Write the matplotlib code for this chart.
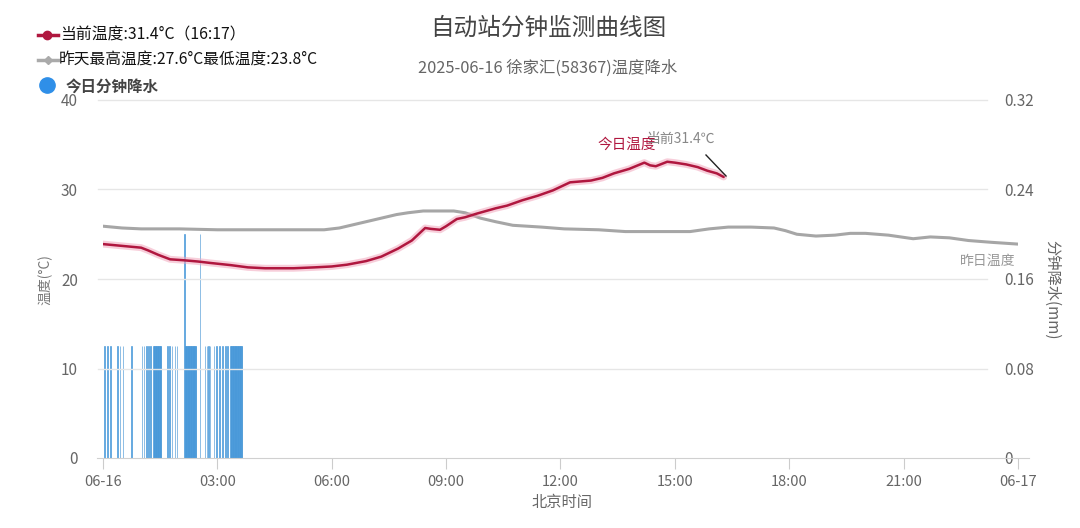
import matplotlib
matplotlib.use("Agg")
import matplotlib.pyplot as plt
from matplotlib.lines import Line2D
import numpy as np

plt.rcParams['font.family'] = ['Noto Sans CJK SC', 'DejaVu Sans']

# ---------------- data ----------------
today_hours = [0, 0.5, 1.0, 1.18, 1.45, 1.76, 2.1, 2.5, 2.8, 3.35, 3.8, 4.25, 5.0, 5.55,
               6.0, 6.4, 6.9, 7.3, 7.74, 8.1, 8.45, 8.6, 8.84, 9.0, 9.28, 9.5, 9.8,
               10.3, 10.6, 11.0, 11.4, 11.8, 12.25, 12.8, 13.1, 13.4, 13.8, 14.2,
               14.35, 14.5, 14.8, 15.0, 15.3, 15.6, 15.85, 16.1, 16.28]
today_temp = [23.9, 23.7, 23.5, 23.2, 22.7, 22.2, 22.1, 21.95, 21.8, 21.55, 21.3, 21.2, 21.2, 21.3,
              21.4, 21.6, 22.0, 22.5, 23.4, 24.3, 25.7, 25.6, 25.5, 25.9, 26.7, 26.9, 27.3,
              27.9, 28.2, 28.8, 29.3, 29.9, 30.8, 31.0, 31.3, 31.8, 32.3, 33.0,
              32.7, 32.6, 33.1, 33.0, 32.8, 32.5, 32.1, 31.8, 31.4]

yest_hours = [0, 0.5, 1.0, 2, 3, 4, 5, 5.8, 6.2, 6.5, 7.0, 7.3, 7.7, 8.0, 8.4, 9.2, 9.5,
              9.9, 10.3, 10.75, 11.5, 12.1, 13.0, 13.7, 14.5, 15.4, 15.9, 16.4, 17.0,
              17.6, 17.9, 18.2, 18.7, 19.2, 19.6, 20.0, 20.6, 21.25, 21.7, 22.2, 22.7,
              23.3, 24.0]
yest_temp = [25.9, 25.7, 25.6, 25.6, 25.5, 25.5, 25.5, 25.5, 25.7, 26.0, 26.5, 26.8, 27.2,
             27.4, 27.6, 27.6, 27.4, 26.8, 26.4, 26.0, 25.8, 25.6, 25.5, 25.3, 25.3, 25.3,
             25.6, 25.8, 25.8, 25.7, 25.4, 25.0, 24.8, 24.9, 25.1, 25.1, 24.9, 24.5,
             24.7, 24.6, 24.3, 24.1, 23.9]

# minute-of-day with precipitation (mm)
rain_minutes = [2, 7, 11, 22, 26, 31, 44, 61, 64, 68, 71, 74,
                79, 80, 81, 82, 83, 84, 85, 86, 87, 88, 89, 90, 91,
                101, 104, 108, 113, 116, 128,
                129, 130, 131, 132, 133, 134, 135, 136, 137, 138, 139, 140, 141, 142, 143, 144, 145, 146,
                152, 160, 163, 166, 168, 174, 178, 183, 188, 192, 195,
                200, 201, 202, 203, 204, 205, 206, 207, 208, 209, 210, 211, 212, 213, 214, 215, 216, 217, 218]
rain_values = [0.1] * 30 + [0.2] + [0.1] * 18 + [0.2] + [0.1] * 29

x_ticks = [0, 3, 6, 9, 12, 15, 18, 21, 24]
x_labels = ['06-16', '03:00', '06:00', '09:00', '12:00', '15:00', '18:00', '21:00', '06-17']
left_ticks = [0, 10, 20, 30, 40]
right_ticks = [0, 0.08, 0.16, 0.24, 0.32]
right_labels = ['0', '0.08', '0.16', '0.24', '0.32']

# ---------------- figure ----------------
W, H = 1080, 528
fig = plt.figure(figsize=(W / 100, H / 100), dpi=100)
fig.patch.set_facecolor('white')

def fx(px):
    return px / W

def fy(py):
    return 1 - py / H

ax = fig.add_axes([fx(103), fy(458), fx(1018) - fx(103), fy(100) - fy(458)])
ax2 = ax.twinx()
ax.set_zorder(ax2.get_zorder() + 1)
ax.patch.set_visible(False)

ax.set_xlim(0, 24)
ax.set_ylim(0, 40)
ax2.set_ylim(0, 0.32)

# gridlines
for t in left_ticks[1:]:
    ax.axhline(t, xmin=-0.006, xmax=0.966, color='#e6e6e6', lw=1, zorder=0, clip_on=False)

# rain bars
rain_h = [m / 60 for m in rain_minutes]
ax2.bar(rain_h, rain_values, width=1 / 60, align='edge', color='#2f93e6',
        edgecolor='#4f9ad6', linewidth=0.45, zorder=2)

# yesterday
ax.plot(yest_hours, yest_temp, color='#a6a6a6', lw=2.2, zorder=3, solid_capstyle='round')
# today (halo + line)
ax.plot(today_hours, today_temp, color='#f2a7bd', lw=5, alpha=0.55, zorder=4, solid_capstyle='round')
ax.plot(today_hours, today_temp, color='#b0173f', lw=1.8, zorder=5, solid_capstyle='round')

# spines
for s in ['top', 'right', 'left']:
    ax.spines[s].set_visible(False)
    ax2.spines[s].set_visible(False)
ax2.spines['bottom'].set_visible(False)
ax.spines['bottom'].set_color('#d0d0d0')
ax.spines['bottom'].set_bounds(-0.15, 24.3)

ax.set_xticks(x_ticks)
ax.set_xticklabels(x_labels)
ax.tick_params(axis='x', length=8, color='#cccccc', labelsize=10.5, labelcolor='#666666', pad=4)
ax.set_yticks(left_ticks)
ax.tick_params(axis='y', length=0, labelsize=11, labelcolor='#666666', pad=18)
ax2.set_yticks(right_ticks)
ax2.set_yticklabels(right_labels)
ax2.tick_params(axis='y', length=0, labelsize=11, labelcolor='#666666', pad=-10)
for lbl in ax2.get_yticklabels():
    lbl.set_horizontalalignment('left')

# axis labels
fig.text(fx(562), fy(503), '北京时间', ha='center', va='center', fontsize=11, color='#666666')
fig.text(fx(45), fy(280), '温度(°C)', ha='center', va='center', fontsize=10, color='#777777', rotation=90)
fig.text(fx(1052), fy(290), '分钟降水(mm)', ha='center', va='center', fontsize=11, color='#666666', rotation=270)

# titles
fig.text(fx(548), fy(28), '自动站分钟监测曲线图', ha='center', va='center', fontsize=17, color='#444444')
fig.text(fx(548), fy(68), '2025-06-16 徐家汇(58367)温度降水', ha='center', va='center', fontsize=11.8, color='#666666')

# annotations
fig.text(fx(627), fy(145), '今日温度', ha='center', va='center', fontsize=10.5, color='#b0173f')
fig.text(fx(681), fy(139), '当前31.4℃', ha='center', va='center', fontsize=10, color='#888888')
fig.add_artist(Line2D([fx(706), fx(726)], [fy(155), fy(176)], color='#222222', lw=1))
fig.text(fx(1015), fy(261), '昨日温度', ha='right', va='center', fontsize=10, color='#999999')

# legend
fig.add_artist(Line2D([fx(38), fx(58)], [fy(35), fy(35)], color='#b0173f', lw=2.5))
fig.add_artist(Line2D([fx(47)], [fy(35)], marker='o', markersize=6, color='#b0173f'))
fig.text(fx(60), fy(35), '当前温度:31.4°C（16:17）', ha='left', va='center', fontsize=11.4, color='#111111')
fig.add_artist(Line2D([fx(38), fx(58)], [fy(60), fy(60)], color='#aaaaaa', lw=2.5))
fig.add_artist(Line2D([fx(48)], [fy(60)], marker='D', markersize=4.5, color='#aaaaaa'))
fig.text(fx(59), fy(60), '昨天最高温度:27.6°C最低温度:23.8°C', ha='left', va='center', fontsize=11.3, color='#111111')
fig.add_artist(Line2D([fx(47)], [fy(85)], marker='o', markersize=11, color='#2f8fe8', lw=0))
fig.text(fx(66), fy(87), '今日分钟降水', ha='left', va='center', fontsize=11.2, color='#444444', fontweight='bold')

fig.savefig('out.png', dpi=100, facecolor='white')
